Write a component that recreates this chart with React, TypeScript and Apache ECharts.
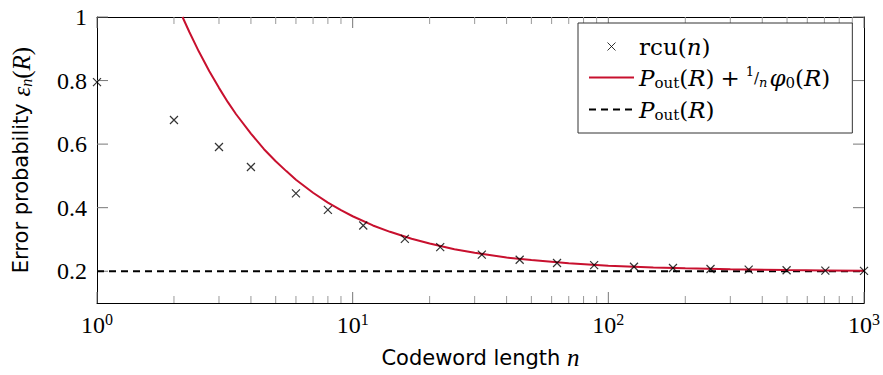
import React, { useEffect, useRef } from "react";
import * as echarts from "echarts";

// rcu(n) markers
const rcuN = [1, 2, 3, 4, 6, 8, 11, 16, 22, 32, 45, 63, 88, 126, 179, 251, 354, 498, 706, 1000];
const rcuVals = [0.795, 0.676, 0.591, 0.528, 0.445, 0.393, 0.344, 0.302, 0.276, 0.252, 0.236, 0.226, 0.219, 0.214, 0.21, 0.207, 0.205, 0.203, 0.202, 0.201];

// P_out(R) + phi0(R)/n curve
const approxN = [2.16, 2.3, 2.5, 2.75, 3, 3.25, 3.5, 4, 4.5, 5, 5.5, 6, 7, 8, 9, 10, 12, 14, 17, 20, 25, 30, 40, 50, 70, 100, 150, 200, 300, 500, 700, 1000];
const approxVals = [1.0, 0.952, 0.892, 0.829, 0.777, 0.732, 0.694, 0.633, 0.584, 0.546, 0.515, 0.488, 0.447, 0.416, 0.392, 0.373, 0.344, 0.324, 0.302, 0.287, 0.269, 0.258, 0.243, 0.235, 0.225, 0.217, 0.2115, 0.209, 0.206, 0.2035, 0.2025, 0.2017];

// P_out(R)
const poutN = [1, 1000];
const poutVals = [0.2, 0.2];

// ticks
const xMajor = [1, 10, 100, 1000];
const xMinor = [2, 3, 4, 5, 6, 7, 8, 9, 20, 30, 40, 50, 60, 70, 80, 90, 200, 300, 400, 500, 600, 700, 800, 900];
const yTicks = [0.2, 0.4, 0.6, 0.8, 1];

const Y_MIN = 0.1;
const Y_MAX = 1;
const X_MIN = 1;
const X_MAX = 1000;

const SERIF = "'Liberation Serif', 'DejaVu Serif', serif";
const LSERIF = "'DejaVu Serif', serif";
const SANS = "'DejaVu Sans', sans-serif";

const legendRich = {
  r: { fontFamily: LSERIF, fontSize: 23, color: "#000", lineHeight: 30 },
  i: { fontFamily: LSERIF, fontStyle: "italic", fontSize: 23, color: "#000", lineHeight: 30 },
  sp: { fontFamily: LSERIF, fontSize: 23, color: "#000", lineHeight: 30, padding: [0, 6, 0, 6] },
  sub: { fontFamily: LSERIF, fontSize: 15, color: "#000", lineHeight: 20, padding: [10, 0, 0, 0] },
  f1: { fontFamily: LSERIF, fontSize: 13, color: "#000", lineHeight: 16, padding: [0, 0, 12, 0] },
  fs: { fontFamily: LSERIF, fontSize: 15, color: "#000", lineHeight: 18 },
  fn: { fontFamily: LSERIF, fontStyle: "italic", fontSize: 13, color: "#000", lineHeight: 16, padding: [10, 2, 0, 0] },
};

const nameRich = {
  s: { fontFamily: SANS, fontSize: 21, color: "#000" },
  si: { fontFamily: SERIF, fontStyle: "italic", fontSize: 25, color: "#000" },
  ssub: { fontFamily: SERIF, fontStyle: "italic", fontSize: 16, color: "#000", padding: [10, 0, 0, 0] },
  sr: { fontFamily: SERIF, fontSize: 25, color: "#000" },
};

const legendLabels: Record<string, string> = {
  rcu: "{r|rcu(}{i|n}{r|)}",
  approx: "{i|P}{sub|out}{r|(}{i|R}{r|)}{sp|+}{f1|1}{fs|/}{fn|n}{i|φ}{sub|0}{r|(}{i|R}{r|)}",
  pout: "{i|P}{sub|out}{r|(}{i|R}{r|)}",
};

const CROSS = "path://M0,0L10,10M10,0L0,10";

// inside tick marks drawn as thin rect symbols placed at the axis edges by the axes' scales
const tickMarks = (name: string, data: number[][], size: number[], offset: number[], color: string) => ({
  name,
  type: "scatter",
  xAxisIndex: 0,
  yAxisIndex: 0,
  silent: true,
  clip: false,
  symbol: "rect",
  symbolSize: size,
  symbolOffset: offset,
  data,
  itemStyle: { color, borderWidth: 0, opacity: 1 },
  z: 1,
});

export default function App() {
  const ref = useRef<HTMLDivElement>(null);
  useEffect(() => {
    if (!ref.current) return;
    const chart = echarts.init(ref.current, null, { renderer: "svg" });
    const axisLine = { show: true, onZero: false, lineStyle: { color: "#000", width: 1 } };
    const baseX = { type: "log", logBase: 10, min: X_MIN, max: X_MAX, gridIndex: 0, splitLine: { show: false }, axisTick: { show: false }, minorTick: { show: false } };
    const hiddenSym = { color: "transparent", borderColor: "transparent", borderWidth: 0, opacity: 0 };
    chart.setOption({
      animation: false,
      grid: { left: 97, right: 18, top: 17, bottom: 70, containLabel: false },
      xAxis: [
        {
          ...baseX,
          position: "bottom",
          axisLine,
          axisLabel: {
            margin: 8,
            formatter: (v: number) => `{b|10}{e|${Math.round(Math.log10(v))}}`,
            rich: {
              b: { fontFamily: SERIF, fontSize: 24, color: "#000" },
              e: { fontFamily: SERIF, fontSize: 16, color: "#000", padding: [0, 0, 12, 0] },
            },
          },
          name: "{s|Codeword length }{si|n}",
          nameLocation: "middle",
          nameGap: 42,
          nameTextStyle: { rich: nameRich },
        },
        { ...baseX, position: "top", axisLine, axisLabel: { show: false } },
      ],
      yAxis: [
        {
          type: "value",
          min: Y_MIN,
          max: Y_MAX,
          position: "left",
          splitLine: { show: false },
          axisTick: { show: false },
          axisLine,
          axisLabel: {
            customValues: yTicks,
            margin: 10,
            formatter: (v: number) => (Math.abs(v - 1) < 1e-9 ? "1" : v.toFixed(1)),
            fontFamily: SERIF,
            fontSize: 24,
            color: "#000",
          },
          name: "{s|Error probability }{si|ε}{ssub|n}{sr|(}{si|R}{sr|)}",
          nameLocation: "middle",
          nameRotate: 90,
          nameGap: 63,
          nameTextStyle: { rich: nameRich },
        },
        {
          type: "value",
          min: Y_MIN,
          max: Y_MAX,
          position: "right",
          splitLine: { show: false },
          axisTick: { show: false },
          axisLine,
          axisLabel: { show: false },
        },
      ],
      legend: {
        orient: "vertical",
        left: 578,
        top: 23,
        backgroundColor: "#fff",
        borderColor: "#333",
        borderWidth: 1,
        borderRadius: 0,
        padding: [12, 22, 11, 10],
        itemWidth: 45,
        itemHeight: 8,
        itemGap: 7,
        data: [
          { name: "rcu", itemStyle: { color: "transparent", borderColor: "#000", borderWidth: 1 } },
          { name: "approx", itemStyle: hiddenSym },
          { name: "pout", itemStyle: hiddenSym },
        ],
        formatter: (name: string) => legendLabels[name],
        textStyle: { rich: legendRich },
      },
      series: [
        tickMarks("xMajorBottom", xMajor.map((v) => [v, Y_MIN]), [1, 11], [0, -5.5], "#777777"),
        tickMarks("xMajorTop", xMajor.map((v) => [v, Y_MAX]), [1, 11], [0, 5.5], "#777777"),
        tickMarks("xMinorBottom", xMinor.map((v) => [v, Y_MIN]), [1, 7], [0, -3.5], "#999999"),
        tickMarks("xMinorTop", xMinor.map((v) => [v, Y_MAX]), [1, 7], [0, 3.5], "#999999"),
        tickMarks("yLeft", yTicks.map((v) => [X_MIN, v]), [11, 1], [5.5, 0], "#777777"),
        tickMarks("yRight", yTicks.map((v) => [X_MAX, v]), [11, 1], [-5.5, 0], "#777777"),
        {
          name: "pout",
          type: "line",
          xAxisIndex: 0,
          yAxisIndex: 0,
          data: poutN.map((n, i) => [n, poutVals[i]]),
          symbol: "none",
          lineStyle: { color: "#000", width: 2, type: [7, 5] },
          itemStyle: { color: "#000" },
          z: 2,
        },
        {
          name: "approx",
          type: "line",
          xAxisIndex: 0,
          yAxisIndex: 0,
          data: approxN.map((n, i) => [n, approxVals[i]]),
          symbol: "none",
          smooth: false,
          lineStyle: { color: "#c8102e", width: 2 },
          itemStyle: { color: "#c8102e" },
          z: 3,
        },
        {
          name: "rcu",
          type: "scatter",
          xAxisIndex: 0,
          yAxisIndex: 0,
          data: rcuN.map((n, i) => [n, rcuVals[i]]),
          symbol: CROSS,
          symbolSize: 8,
          itemStyle: { color: "transparent", borderColor: "#000", borderWidth: 1.2 },
          z: 4,
        },
      ],
    });
    return () => chart.dispose();
  }, []);
  return <div ref={ref} style={{ width: 883, height: 375, position: "absolute", left: 0, top: 0 }} />;
}
